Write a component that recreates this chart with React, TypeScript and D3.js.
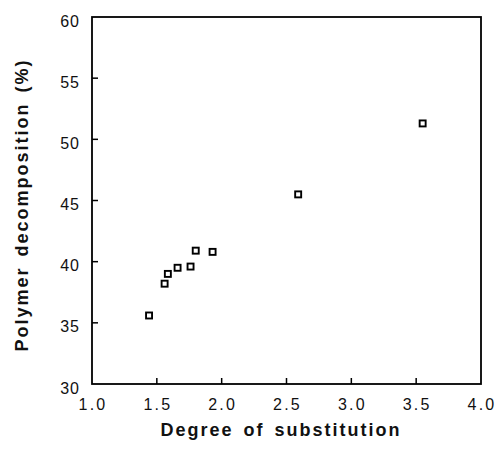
import React from "react";
import * as d3 from "d3";

// Degree of substitution vs. polymer decomposition
const degreeOfSubstitution = [1.44, 1.56, 1.585, 1.66, 1.76, 1.8, 1.93, 2.59, 3.55];
const decompositionPct = [35.6, 38.2, 39.0, 39.5, 39.6, 40.9, 40.8, 45.5, 51.3];

const xTicks = [1.0, 1.5, 2.0, 2.5, 3.0, 3.5, 4.0];
const yTicks = [30, 35, 40, 45, 50, 55, 60];

const W = 497;
const H = 452;
const left = 92;
const right = 481;
const top = 17;
const bottom = 384;

export default function App() {
  const x = d3.scaleLinear().domain([1, 4]).range([left, right]);
  const y = d3.scaleLinear().domain([30, 60]).range([bottom, top]);
  const font = "Arial, 'Liberation Sans', Helvetica, sans-serif";
  const pts = degreeOfSubstitution.map((d, i) => ({ x: d, y: decompositionPct[i] }));

  return (
    <svg
      width={W}
      height={H}
      style={{ position: "absolute", left: 0, top: 0, background: "#fff" }}
    >
      {/* frame */}
      <rect
        x={left}
        y={top}
        width={right - left}
        height={bottom - top}
        fill="none"
        stroke="#000"
        strokeWidth={1.8}
      />
      {/* y ticks (inward) and labels */}
      {yTicks.map((t) => (
        <g key={"y" + t}>
          {t > 30 && t < 60 && (
            <line x1={left} x2={left + 6} y1={y(t)} y2={y(t)} stroke="#000" strokeWidth={1.5} />
          )}
          <text
            x={80}
            y={y(t) + 9.5}
            textAnchor="end"
            fontFamily={font}
            fontSize={16}
            letterSpacing={1}
            fill="#111"
          >
            {t}
          </text>
        </g>
      ))}
      {/* x ticks (inward) and labels */}
      {xTicks.map((t) => (
        <g key={"x" + t}>
          {t > 1 && t < 4 && (
            <line x1={x(t)} x2={x(t)} y1={bottom} y2={bottom - 6} stroke="#000" strokeWidth={1.5} />
          )}
          <text
            x={x(t) + 1}
            y={bottom + 26}
            textAnchor="middle"
            fontFamily={font}
            fontSize={16}
            letterSpacing={2.2}
            fill="#111"
          >
            {d3.format(".1f")(t)}
          </text>
        </g>
      ))}
      {/* data points */}
      {pts.map((p, i) => (
        <rect
          key={i}
          x={x(p.x) - 3}
          y={y(p.y) - 3}
          width={6}
          height={6}
          fill="#fff"
          stroke="#000"
          strokeWidth={1.9}
        />
      ))}
      {/* axis titles */}
      <text
        x={281}
        y={436}
        textAnchor="middle"
        fontFamily={font}
        fontWeight="bold"
        fontSize={18}
        letterSpacing={2}
        wordSpacing={3}
        fill="#111"
      >
        Degree of substitution
      </text>
      <text
        transform={`translate(28,205) rotate(-90)`}
        textAnchor="middle"
        fontFamily={font}
        fontWeight="bold"
        fontSize={18}
        letterSpacing={2}
        wordSpacing={3}
        fill="#111"
      >
        Polymer decomposition (%)
      </text>
    </svg>
  );
}
